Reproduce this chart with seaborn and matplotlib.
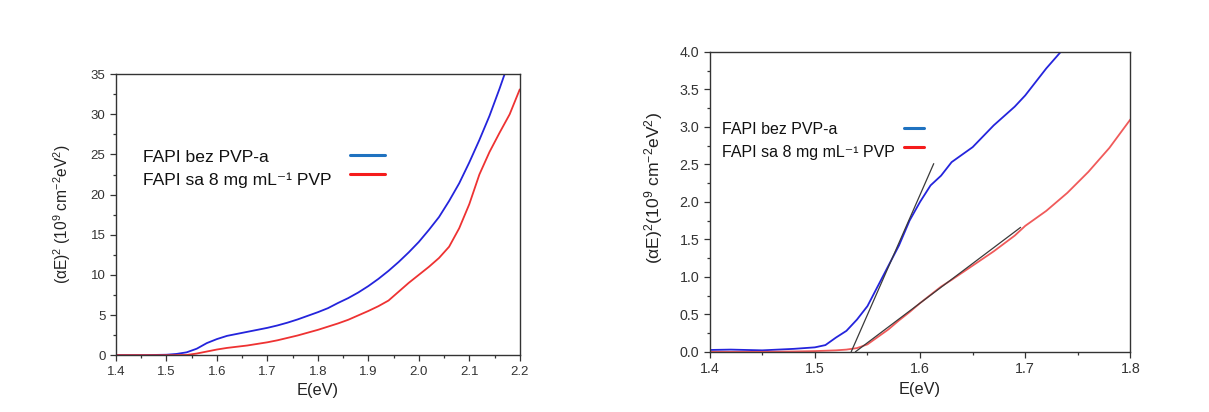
import seaborn as sns
import matplotlib.pyplot as plt
from matplotlib.lines import Line2D
from matplotlib.ticker import MultipleLocator

## -----------------------
# data
## -----------------------
e_full = [1.40, 1.45, 1.50, 1.52, 1.54, 1.56, 1.58, 1.60, 1.62, 1.64, 1.66, 1.68, 1.70,
          1.72, 1.74, 1.76, 1.78, 1.80, 1.82, 1.84, 1.86, 1.88, 1.90, 1.92, 1.94, 1.96,
          1.98, 2.00, 2.02, 2.04, 2.06, 2.08, 2.10, 2.12, 2.14, 2.16, 2.18, 2.20]
bez_full = [0.0, 0.0, 0.05, 0.15, 0.35, 0.8, 1.5, 2.0, 2.4, 2.65, 2.9, 3.15, 3.4,
            3.7, 4.05, 4.45, 4.9, 5.35, 5.85, 6.5, 7.1, 7.8, 8.6, 9.5, 10.5, 11.6,
            12.8, 14.1, 15.6, 17.2, 19.2, 21.4, 24.0, 26.8, 29.8, 33.2, 36.8, 40.5]
pvp_full = [0.0, 0.0, 0.0, 0.0, 0.02, 0.2, 0.45, 0.7, 0.9, 1.05, 1.2, 1.4, 1.6,
            1.85, 2.15, 2.45, 2.8, 3.15, 3.55, 3.95, 4.4, 4.95, 5.5, 6.1, 6.8, 7.9,
            9.0, 10.0, 11.0, 12.1, 13.5, 15.8, 18.8, 22.5, 25.3, 27.7, 30.0, 33.1]

e_zoom = [1.40, 1.42, 1.45, 1.48, 1.50, 1.51, 1.52, 1.53, 1.54, 1.55, 1.56, 1.57, 1.58,
          1.59, 1.60, 1.61, 1.62, 1.63, 1.65, 1.67, 1.69, 1.70, 1.72, 1.74, 1.76, 1.78, 1.80]
bez_zoom = [0.025, 0.03, 0.02, 0.04, 0.06, 0.09, 0.19, 0.28, 0.43, 0.61, 0.88, 1.15, 1.42,
            1.75, 2.0, 2.22, 2.35, 2.53, 2.73, 3.02, 3.27, 3.42, 3.78, 4.1, 4.4, 4.7, 5.0]
pvp_zoom = [0.0, 0.0, 0.0, 0.005, 0.01, 0.015, 0.02, 0.03, 0.05, 0.1, 0.2, 0.3, 0.42,
            0.53, 0.65, 0.76, 0.87, 0.96, 1.15, 1.34, 1.55, 1.68, 1.88, 2.12, 2.4, 2.72, 3.1]

# linear fits (Tauc extrapolation)
fit_bez_e, fit_bez_y = [1.5345, 1.613], [0.0, 2.51]
fit_pvp_e, fit_pvp_y = [1.5385, 1.6956], [0.0, 1.66]

labels = ["FAPI bez PVP-a", "FAPI sa 8 mg mL⁻¹ PVP"]
ylabel_left = r"($\alpha$E)$^2$ (10$^9$ cm$^{-2}$eV$^2$)"
ylabel_right = r"($\alpha$E)$^2$(10$^9$ cm$^{-2}$eV$^2$)"

sns.set_theme(style="ticks")
plt.rcParams["font.family"] = ["Liberation Sans", "DejaVu Sans"]
plt.rcParams["mathtext.fontset"] = "custom"
plt.rcParams["mathtext.rm"] = "Liberation Sans"
plt.rcParams["mathtext.it"] = "Liberation Sans:italic"
plt.rcParams["mathtext.default"] = "regular"

fig = plt.figure(figsize=(12.09, 4.12), dpi=100)
ax1 = fig.add_axes([0.0959, 0.138, 0.334, 0.682])
ax2 = fig.add_axes([0.587, 0.146, 0.348, 0.728])

blue_line, red_line = "#2424dc", "#ee3232"
blue_key, red_key = "#1f72c0", "#f51c1c"

sns.lineplot(x=e_full, y=bez_full, ax=ax1, color=blue_line, lw=1.3)
sns.lineplot(x=e_full, y=pvp_full, ax=ax1, color=red_line, lw=1.3)

sns.lineplot(x=e_zoom, y=bez_zoom, ax=ax2, color=blue_line, lw=1.3)
sns.lineplot(x=e_zoom, y=pvp_zoom, ax=ax2, color="#f05a5a", lw=1.3)
sns.lineplot(x=fit_bez_e, y=fit_bez_y, ax=ax2, color="#3a3a3a", lw=0.9)
sns.lineplot(x=fit_pvp_e, y=fit_pvp_y, ax=ax2, color="#3a3a3a", lw=0.9)

def style_axes(ax, xlim, ylim, ymaj, ylab, tick_fs, ylab_fs):
    ax.set_xlim(*xlim)
    ax.set_ylim(*ylim)
    ax.xaxis.set_major_locator(MultipleLocator(0.1))
    ax.xaxis.set_minor_locator(MultipleLocator(0.05))
    ax.yaxis.set_major_locator(MultipleLocator(ymaj))
    ax.yaxis.set_minor_locator(MultipleLocator(ymaj / 2))
    ax.tick_params(which="both", direction="out", colors="#333333", labelsize=tick_fs, width=0.9)
    ax.tick_params(which="major", length=4)
    ax.tick_params(which="minor", length=2.5)
    for s in ax.spines.values():
        s.set_visible(True)
        s.set_color("#333333")
        s.set_linewidth(1.0)
    ax.set_xlabel("E(eV)", fontsize=11.8, color="#222222")
    ax.set_ylabel(ylab, fontsize=ylab_fs, color="#222222")

style_axes(ax1, (1.4, 2.2), (0, 35), 5, ylabel_left, 9.5, 11.2)
ax1.xaxis.set_major_formatter(lambda v, p: f"{v:.1f}")
ax1.yaxis.set_major_formatter(lambda v, p: f"{v:.0f}")
ax1.yaxis.set_label_coords(-0.106, 0.5)
style_axes(ax2, (1.4, 1.8), (0, 4.0), 0.5, ylabel_right, 10.3, 12.6)
ax2.xaxis.set_major_formatter(lambda v, p: f"{v:.1f}")
ax2.yaxis.set_major_formatter(lambda v, p: f"{v:.1f}")
ax2.yaxis.set_label_coords(-0.107, 0.547)

def key(ax, text_x, rows_y, handle_x, handle_len, fs):
    # labels left aligned, coloured keys aligned on the right
    for lab, y in zip(labels, rows_y):
        ax.text(text_x, y, lab, transform=ax.transAxes, fontsize=fs,
                va="center", ha="left", color="#111111")
    handles = [Line2D([], [], color=blue_key, lw=2.2), Line2D([], [], color=red_key, lw=2.2)]
    leg = ax.legend(handles, ["", ""], loc="center left",
                    bbox_to_anchor=(handle_x, sum(rows_y) / 2 + 0.01), frameon=False,
                    handlelength=handle_len * 11.5 / fs, handletextpad=0, borderpad=0,
                    borderaxespad=0, labelspacing=0.22, fontsize=fs)
    return leg

key(ax1, 0.067, [0.705, 0.623], 0.579, 2.2, 12.6)
key(ax2, 0.03, [0.74, 0.663], 0.463, 1.25, 11.5)

plt.savefig("out.png", dpi=100)
